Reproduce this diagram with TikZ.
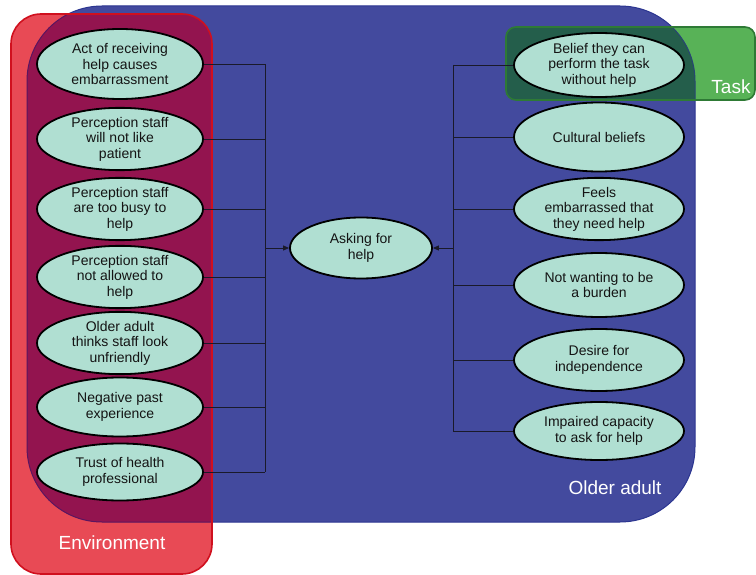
\documentclass[tikz,border=0pt]{standalone}
\usepackage{fontspec}
\setmainfont{Liberation Sans}
\usetikzlibrary{shapes.geometric,arrows.meta}
\definecolor{oblue}{HTML}{434A9E}
\definecolor{obluedraw}{HTML}{2B3590}
\definecolor{ered}{HTML}{E84A55}
\definecolor{ereddraw}{HTML}{D0101E}
\definecolor{epurple}{HTML}{93144F}
\definecolor{epurpledraw}{HTML}{5A1560}
\definecolor{tgreen}{HTML}{58B257}
\definecolor{tgreendraw}{HTML}{2E7A35}
\definecolor{tdark}{HTML}{245E4B}
\definecolor{mint}{HTML}{B0DFD2}
\definecolor{linec}{HTML}{1A1A2A}
\tikzset{
  ell/.style={ellipse, draw=black, line width=1.8pt, fill=mint, inner sep=0pt,
    align=center, text=black!92, font=\fontsize{14}{15.5}\selectfont},
  lnode/.style={ell, minimum width=166pt},
  rnode/.style={ell, minimum width=170pt},
  conn/.style={draw=linec, line width=0.9pt},
  arr/.style={conn, -{Triangle[length=6pt,width=5pt]}},
  grouplabel/.style={text=white, font=\fontsize{19}{22}\selectfont, inner sep=0pt}
}
\begin{document}
\begin{tikzpicture}[x=1pt,y=-1pt]
\useasboundingbox (0,0) rectangle (756,575);
% Older adult (blue)
\fill[oblue, rounded corners=75pt] (27,6) rectangle (695,522);
\draw[obluedraw, line width=1pt, rounded corners=75pt] (27,6) rectangle (695,522);
% Environment (red)
\fill[ered, rounded corners=30pt] (11,14) rectangle (212,574);
\begin{scope}
  \clip[rounded corners=30pt] (11,14) rectangle (212,574);
  \fill[epurple, rounded corners=75pt] (27,6) rectangle (695,522);
  \draw[epurpledraw, line width=1pt, rounded corners=75pt] (27,6) rectangle (695,522);
\end{scope}
\draw[ereddraw, line width=1.6pt, rounded corners=30pt] (11,14) rectangle (212,574);
% Task (green)
\fill[tgreen, rounded corners=10pt] (506,27) rectangle (755,100);
\begin{scope}
  \clip[rounded corners=10pt] (506,27) rectangle (755,100);
  \fill[tdark, rounded corners=75pt] (27,6) rectangle (695,522);
  \draw[obluedraw!60!tdark, line width=1pt, rounded corners=75pt] (27,6) rectangle (695,522);
\end{scope}
\draw[tgreendraw, line width=1.6pt, rounded corners=10pt] (506,27) rectangle (755,100);
% group labels
\node[grouplabel] (lenv) at (112,543) {Environment};
\node[grouplabel] (lold) at (615,488) {Older adult};
\node[grouplabel] (ltask) at (731,87) {Task};
% centre
\node[ell, minimum width=142pt, minimum height=61pt] (ask) at (361,248) {Asking for\\help};
% left nodes
\node[lnode, minimum height=70pt] (l1) at (120,64) {Act of receiving\\help causes\\embarrassment};
\node[lnode, minimum height=62pt] (l2) at (120,139) {Perception staff\\will not like\\patient};
\node[lnode, minimum height=62pt] (l3) at (120,209) {Perception staff\\are too busy to\\help};
\node[lnode, minimum height=60pt] (l4) at (120,277) {Perception staff\\not allowed to\\help};
\node[lnode, minimum height=55pt] (l5) at (120,343) {Older adult\\thinks staff look\\unfriendly};
\node[lnode, minimum height=59pt] (l6) at (120,407) {Negative past\\experience};
\node[lnode, minimum height=57pt] (l7) at (120,472) {Trust of health\\professional};
% right nodes
\node[rnode, minimum height=64pt] (r1) at (599,65) {Belief they can\\perform the task\\without help};
\node[rnode, minimum height=69pt] (r2) at (599,137) {Cultural beliefs};
\node[rnode, minimum height=61pt] (r3) at (599,209) {Feels\\embarrassed that\\they need help};
\node[rnode, minimum height=64pt] (r4) at (599,285) {Not wanting to be\\a burden};
\node[rnode, minimum height=62pt] (r5) at (599,360) {Desire for\\independence};
\node[rnode, minimum height=58pt] (r6) at (599,431) {Impaired capacity\\to ask for help};
% junctions
\coordinate (jl) at (265,248);
\coordinate (jr) at (453,248);
\foreach \n in {l1,l2,l3,l4,l5,l6,l7}{
  \draw[conn] (\n.east) -- (\n.east -| jl);
}
\draw[conn] (l1.east -| jl) -- (l7.east -| jl);
\foreach \n in {r1,r2,r3,r4,r5,r6}{
  \draw[conn] (\n.west) -- (\n.west -| jr);
}
\draw[conn] (r1.west -| jr) -- (r6.west -| jr);
\draw[arr] (jl) -- (ask.west);
\draw[arr] (jr) -- (ask.east);
\end{tikzpicture}
\end{document}
